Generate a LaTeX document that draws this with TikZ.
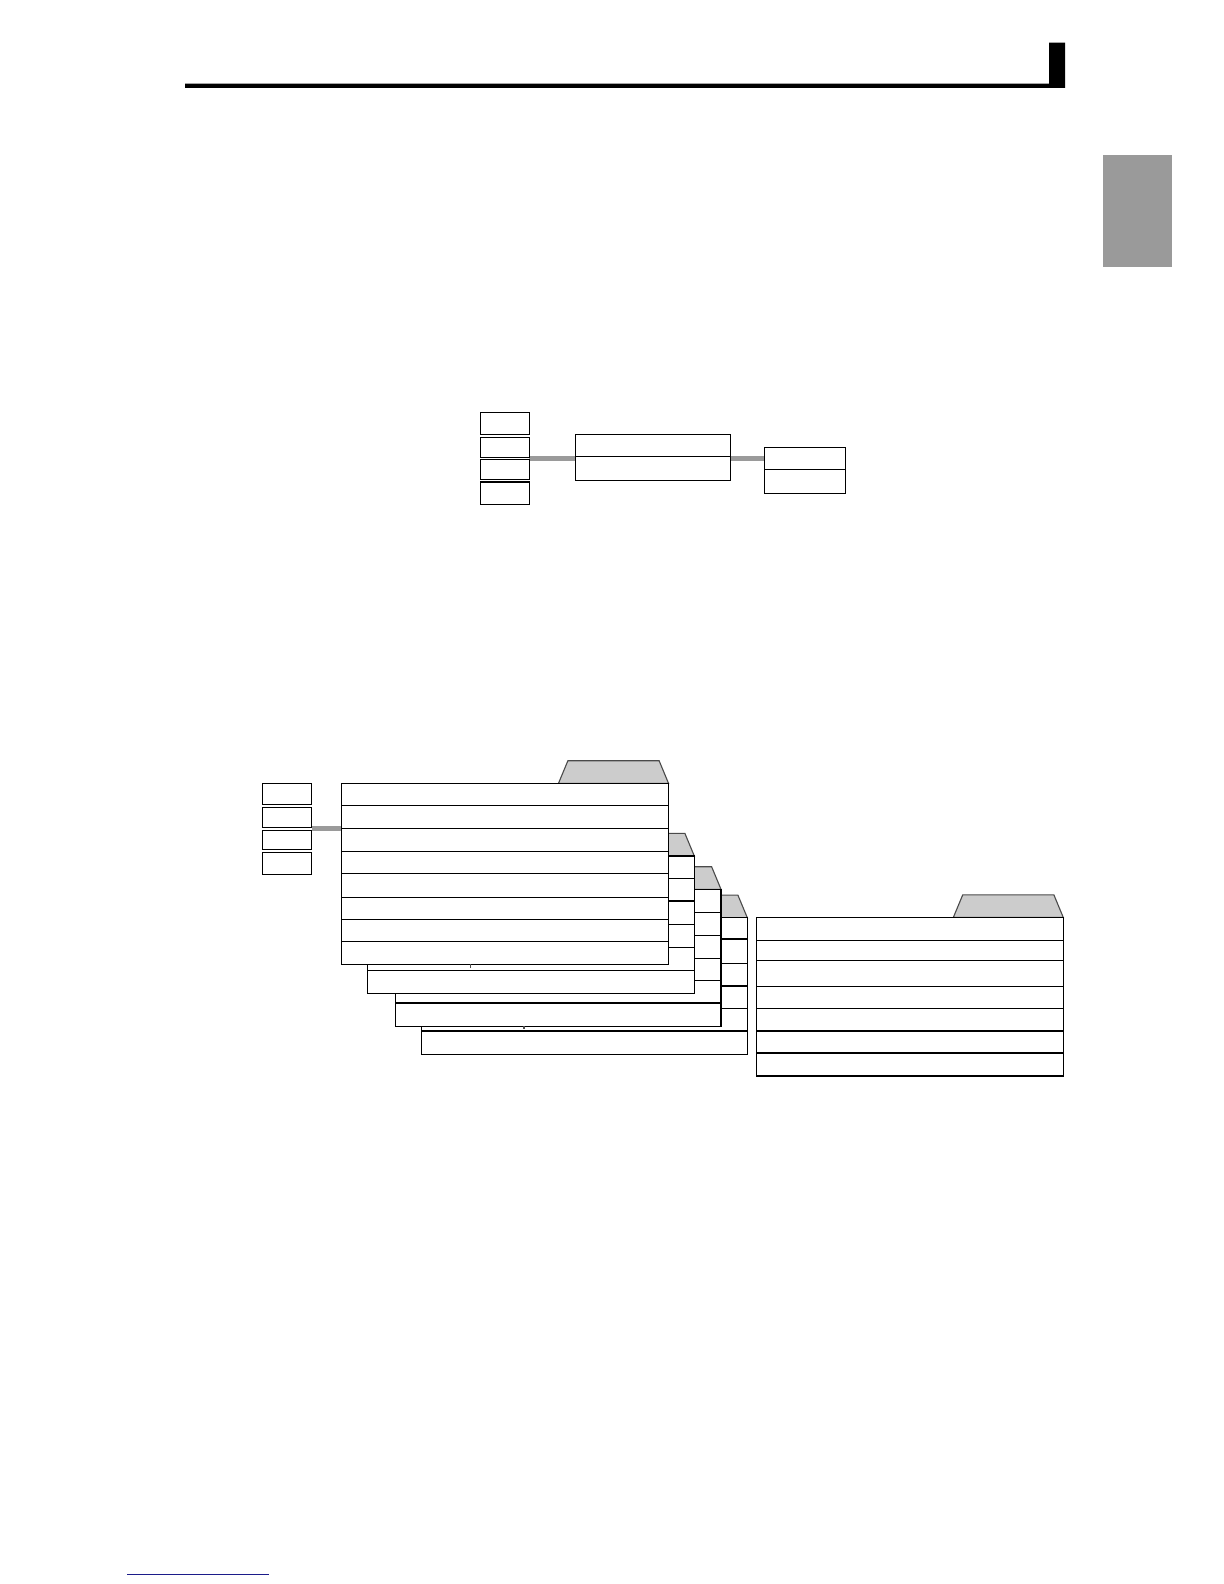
\documentclass[tikz,border=0pt]{standalone}
\usetikzlibrary{fit,backgrounds}
\definecolor{conngray}{HTML}{9A9A9A}
\definecolor{tabgray}{HTML}{CCCCCC}
\definecolor{tabedge}{HTML}{4A4A4A}
\definecolor{sidegray}{HTML}{9A9A9A}
\definecolor{linkblue}{HTML}{1C1C8A}
\tikzset{
  box/.style={draw=black, line width=0.55pt, inner sep=0pt, outer sep=0pt, fill=white},
  hold/.style={inner sep=0pt, outer sep=0pt},
  conn/.style={draw=conngray, line width=2.4pt},
  tabshape/.style={fill=tabgray, draw=tabedge, line width=0.55pt, line join=miter},
  rowline/.style={draw=black, line width=0.55pt},
  tick/.style={draw=black!70, line width=0.55pt}
}
\newcommand\sheet[6]{%
  \filldraw[tabshape] (#4-110,#3) -- (#4-100.6,#3-22.6) -- (#4-9.4,#3-22.6) -- (#4,#3) -- cycle;
  \node[box, fit={(#2,#3) (#4,#5)}] (#1) {};
  \foreach \r in {#6} \draw[rowline] (#1.west |- 0,\r) -- (#1.east |- 0,\r);
}
\begin{document}
\begin{tikzpicture}[x=0.5pt,y=-0.5pt]
\useasboundingbox (0,0) rectangle (1224,1584);

% page header rule and side tab
\fill[black] (185,83.7) -- (1049,83.7) -- (1049,42.7) -- (1065,42.7) -- (1065,88) -- (185,88) -- cycle;
\fill[sidegray] (1103,155) rectangle (1172,266.7);

% ---------- upper diagram ----------
\node[box, fit={(480.3,412.3) (529.3,434.9)}] (t1) {};
\node[box, fit={(480.3,437.4) (529.3,457.1)}] (t2) {};
\node[box, fit={(480.3,459.5) (529.3,479.6)}] (t3) {};
\node[box, fit={(480.3,482.0) (529.3,504.3)}] (t4) {};
\node[hold, fit=(t1)(t4)] (lstack) {};

\node[box, fit={(575.3,434.3) (730.3,480.3)}] (mid) {};
\draw[rowline] (mid.west |- 0,456.3) -- (mid.east |- 0,456.3);

\node[box, fit={(764.3,447.3) (845.7,493.3)}] (rbox) {};
\draw[rowline] (rbox.west |- 0,469.3) -- (rbox.east |- 0,469.3);

\begin{scope}[on background layer]
  \draw[conn] (lstack.east) -- (mid.west |- lstack.east);
  \draw[conn] (mid.east |- lstack.east) -- (rbox.west |- lstack.east);
\end{scope}

% ---------- lower diagram ----------
\node[box, fit={(262.3,783.3) (311.7,804.9)}] (b1) {};
\node[box, fit={(262.3,807.4) (311.7,827.9)}] (b2) {};
\node[box, fit={(262.3,830.4) (311.7,849.9)}] (b3) {};
\node[box, fit={(262.3,852.4) (311.7,874.3)}] (b4) {};
\node[hold, fit=(b1)(b4)] (bstack) {};

% stacked sheets, back to front
\sheet{s4}{421.3}{917.7}{747.3}{1054.3}{939,963.3,986,1008.3,1031}
\sheet{s3}{395.3}{889.3}{721}{1026.3}{912.3,935.3,958.3,980.3,1003}
\sheet{s2}{367.3}{856}{694.3}{993.3}{878.3,901,924.3,947.3,970.3}
\sheet{s1}{341.7}{783.3}{668.5}{964.3}{805.3,828.3,851.3,873.3,897.3,919.3,941.3}

% small marks under sheets
\draw[tick] (470.7,964.3) -- (470.7,967.7);
\draw[tick] (524,1026.3) -- (524,1029.3);

% right-hand sheet
\sheet{sr}{756.5}{917.5}{1063.3}{1076}{940.3,960.3,986.3,1008.3,1031,1053}

\begin{scope}[on background layer]
  \draw[conn] (bstack.east) -- (s1.west |- bstack.east);
\end{scope}

% footer link rule
\coordinate (la) at (127,1574.7);
\coordinate (lb) at (269,1574.7);
\draw[linkblue, line width=0.6pt] (la) -- (lb);
\end{tikzpicture}
\end{document}
